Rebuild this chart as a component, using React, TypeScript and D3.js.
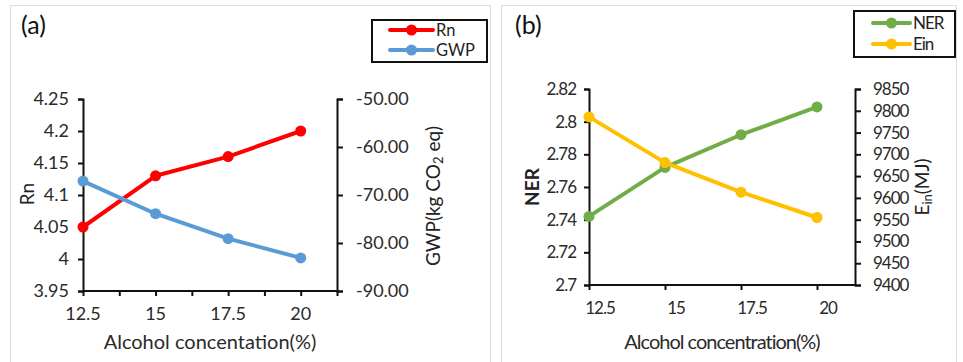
import { useRef, useEffect } from "react";
import * as d3 from "d3";

// shared x categories (alcohol concentration %)
const conc = [12.5, 15, 17.5, 20];

// panel (a)
const rn = [4.05, 4.13, 4.16, 4.2];
const gwp = [-67.1, -73.9, -79.1, -83.1];
const rnTicks = [3.95, 4, 4.05, 4.1, 4.15, 4.2, 4.25];
const gwpTicks = [-90, -80, -70, -60, -50];

// panel (b)
const ner = [2.742, 2.772, 2.792, 2.809];
const ein = [9786, 9681, 9613, 9555];
const nerTicks = [2.7, 2.72, 2.74, 2.76, 2.78, 2.8, 2.82];
const einTicks = [9400, 9450, 9500, 9550, 9600, 9650, 9700, 9750, 9800, 9850];

const FONT = "Lato, 'Open Sans', sans-serif";

export default function App() {
  const svgRef = useRef<SVGSVGElement>(null);

  useEffect(() => {
    const svg = d3.select(svgRef.current);
    svg.selectAll("*").remove();

    // panel frames
    svg.append("rect").attr("x", 10.5).attr("y", 5.5).attr("width", 480).attr("height", 370)
      .attr("fill", "#fff").attr("stroke", "#dedede");
    svg.append("rect").attr("x", 501.5).attr("y", 5.5).attr("width", 455).attr("height", 370)
      .attr("fill", "#fff").attr("stroke", "#dedede");

    const drawPanel = (opt: any) => {
      const g = svg.append("g").style("font-family", FONT).attr("fill", "#222");
      const x = d3.scaleLinear().domain([12.5, 21.25]).range([opt.left, opt.right]);
      const yL = d3.scaleLinear().domain(opt.lDomain).range([opt.bottom, opt.top]);
      const yR = d3.scaleLinear().domain(opt.rDomain).range([opt.bottom, opt.top]);

      const aL = g.append("g").attr("transform", `translate(${opt.left},0)`)
        .call(d3.axisLeft(yL).tickValues(opt.lTicks).tickSize(5).tickPadding(opt.pad).tickFormat((d: any) => String(+d)));
      const aR = g.append("g").attr("transform", `translate(${opt.right},0)`)
        .call(d3.axisRight(yR).tickValues(opt.rTicks).tickSize(6).tickPadding(opt.pad + 4).tickFormat(opt.rFormat));
      const aB = g.append("g").attr("transform", `translate(0,${opt.bottom})`)
        .call(d3.axisBottom(x).tickValues(opt.xTicks).tickSize(5).tickFormat(() => ""));
      [aL, aR, aB].forEach((a) => {
        a.select(".domain").attr("stroke", "#111").attr("stroke-width", 2);
        a.selectAll(".tick line").attr("stroke", "#111").attr("stroke-width", 2);
        a.selectAll("text").attr("font-size", opt.fs).attr("fill", "#2a2a2a")
          .attr("font-family", FONT).attr("letter-spacing", opt.ls);
      });
      aB.select(".domain").attr("d", `M${opt.left},0H${opt.right}`);

      // x labels
      g.selectAll(".xl").data(conc).join("text")
        .attr("x", (d) => x(d) + opt.xOff).attr("y", opt.bottom + 29)
        .attr("text-anchor", "middle").attr("font-size", opt.fs).attr("fill", "#2a2a2a")
        .attr("letter-spacing", opt.ls).text((d) => String(d));

      g.append("text").attr("x", opt.titleX).attr("y", 349).attr("text-anchor", "middle")
        .attr("font-size", 20).attr("fill", "#2a2a2a").attr("letter-spacing", opt.ls).text(opt.xTitle);

      // series
      const series = [
        { vals: opt.s1, y: yL, color: opt.c1 },
        { vals: opt.s2, y: yR, color: opt.c2 },
      ];
      series.forEach((s) => {
        const line = d3.line<number>().x((_, i) => x(conc[i])).y((v) => s.y(v));
        g.append("path").attr("d", line(s.vals)).attr("fill", "none")
          .attr("stroke", s.color).attr("stroke-width", 4).attr("stroke-linejoin", "round");
        g.selectAll(null).data(s.vals).join("circle")
          .attr("cx", (_, i) => x(conc[i])).attr("cy", (v) => s.y(v)).attr("r", 5.5).attr("fill", s.color);
      });

      // panel tag
      g.append("text").attr("x", opt.tagX).attr("y", 34).attr("font-size", 25).attr("fill", "#111").text(opt.tag);

      // axis titles
      g.append("text").attr("transform", `translate(${opt.lTitleX},${opt.lTitleY}) rotate(-90)`)
        .attr("text-anchor", "middle").attr("font-size", 19).attr("font-weight", opt.lWeight)
        .attr("fill", "#222").text(opt.lTitle);
      const rt = g.append("text").attr("transform", `translate(${opt.rTitleX},${opt.rTitleY}) rotate(-90)`)
        .attr("text-anchor", "middle").attr("font-size", 19).attr("fill", "#222");
      opt.rTitle.forEach((p: any) => {
        rt.append("tspan").attr("baseline-shift", p.sub ? "-25%" : null)
          .attr("font-size", p.sub ? 13 : 19).text(p.t);
      });

      // legend
      const L = opt.legend;
      g.append("rect").attr("x", L.x).attr("y", L.y).attr("width", L.w).attr("height", L.h)
        .attr("fill", "#fff").attr("stroke", "#111").attr("stroke-width", 2);
      [[opt.n1, opt.c1], [opt.n2, opt.c2]].forEach(([name, color], i) => {
        const yy = L.y + L.row0 + i * L.dy;
        g.append("line").attr("x1", L.lx1).attr("x2", L.lx2).attr("y1", yy).attr("y2", yy)
          .attr("stroke", color).attr("stroke-width", 4).attr("stroke-linecap", "round");
        g.append("circle").attr("cx", (L.lx1 + L.lx2) / 2).attr("cy", yy).attr("r", 5.5).attr("fill", color);
        g.append("text").attr("x", L.lx2 + 3).attr("y", yy + 5.5).attr("font-size", L.fs)
          .attr("fill", "#222").attr("letter-spacing", opt.ls).text(name);
      });
    };

    drawPanel({
      left: 83, right: 337, top: 99, bottom: 291,
      lDomain: [3.95, 4.25], rDomain: [-90, -50], lTicks: rnTicks, rTicks: gwpTicks,
      rFormat: (d: any) => d3.format(".2f")(d).replace("−", "-"),
      xTicks: d3.range(12.5, 21.3, 1.25), xOff: 0, pad: 9, fs: 18, ls: 0,
      s1: rn, s2: gwp, c1: "#ff0000", c2: "#5b9bd5", n1: "Rn", n2: "GWP",
      xTitle: "Alcohol concentation(%)", titleX: 210,
      tag: "(a)", tagX: 21,
      lTitle: "Rn", lTitleX: 34, lTitleY: 194, lWeight: 400,
      rTitle: [{ t: "GWP(kg CO" }, { t: "2", sub: true }, { t: " eq)" }], rTitleX: 440, rTitleY: 196,
      legend: { x: 372, y: 20, w: 115, h: 42, row0: 10, dy: 20, lx1: 390, lx2: 433, fs: 16.5 },
    });

    drawPanel({
      left: 589, right: 855, top: 89, bottom: 285,
      lDomain: [2.7, 2.82], rDomain: [9400, 9850], lTicks: nerTicks, rTicks: einTicks,
      rFormat: (d: any) => String(d),
      xTicks: conc, xOff: 11, pad: 8, fs: 17, ls: -1,
      s1: ner, s2: ein, c1: "#70ad47", c2: "#ffc000", n1: "NER", n2: "Ein",
      xTitle: "Alcohol concentration(%)", titleX: 722,
      tag: "(b)", tagX: 515,
      lTitle: "NER", lTitleX: 539, lTitleY: 187, lWeight: 700,
      rTitle: [{ t: "E" }, { t: "in", sub: true }, { t: "(MJ)" }], rTitleX: 929, rTitleY: 187,
      legend: { x: 854, y: 11, w: 101, h: 46, row0: 12, dy: 21, lx1: 873, lx2: 910, fs: 17 },
    });
  }, []);

  return (
    <svg ref={svgRef} width={963} height={362}
      style={{ position: "absolute", left: 0, top: 0, background: "#fff" }} />
  );
}
